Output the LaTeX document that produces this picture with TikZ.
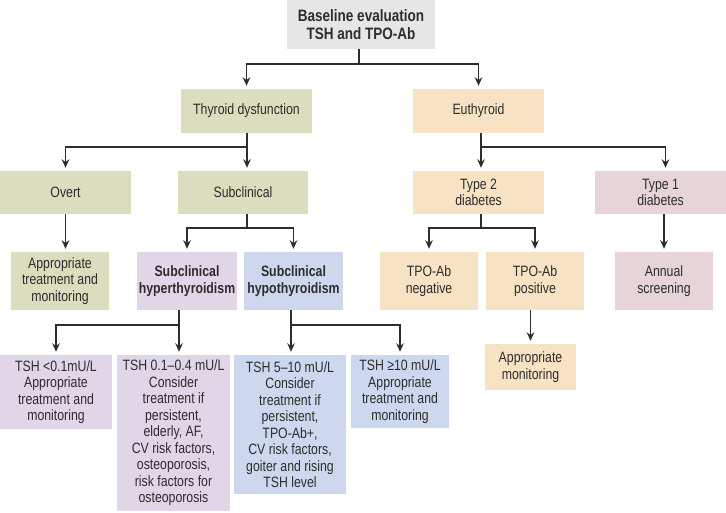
\documentclass[tikz,border=0pt]{standalone}
\usepackage{fontspec}
\setmainfont[FakeStretch=0.82]{Liberation Sans}
\usepackage{tikz}
\usetikzlibrary{arrows.meta}

\definecolor{boxgrey}{RGB}{230,230,230}
\definecolor{boxgreen}{RGB}{219,221,190}
\definecolor{boxpeach}{RGB}{248,226,196}
\definecolor{boxmauve}{RGB}{230,212,216}
\definecolor{boxlilac}{RGB}{225,214,232}
\definecolor{boxblue}{RGB}{205,216,238}
\definecolor{ink}{RGB}{45,45,45}

\begin{document}
\begin{tikzpicture}[x=1pt,y=-1pt]
		\tikzset{box/.style={inner sep=0pt, align=center, text=ink,
				font=\fontsize{15}{16.5}\selectfont}}
		\tikzset{greybox/.style={box, fill=boxgrey}}
		\tikzset{greenbox/.style={box, fill=boxgreen}}
		\tikzset{peachbox/.style={box, fill=boxpeach}}
		\tikzset{mauvebox/.style={box, fill=boxmauve}}
		\tikzset{lilacbox/.style={box, fill=boxlilac}}
		\tikzset{bluebox/.style={box, fill=boxblue}}
		\tikzset{line/.style={draw=ink, line width=1.4pt}}
		\tikzset{arr/.style={line, -{Stealth[length=8.5pt,width=7.5pt]}, shorten >=3pt}}
		\useasboundingbox (0,0) rectangle (726,512);
		%boxes
		\node[greybox, minimum width=148, minimum height=49,
			font=\fontsize{16.5}{18}\selectfont\bfseries] (base) at (361,24.5)
			{Baseline evaluation\\TSH and TPO-Ab};
		\node[greenbox, minimum width=131, minimum height=44] (thy) at (246.5,111) {Thyroid dysfunction};
		\node[peachbox, minimum width=131, minimum height=44] (euth) at (478.5,111) {Euthyroid};
		\node[greenbox, minimum width=131, minimum height=43] (overt) at (65.5,192.5) {Overt};
		\node[greenbox, minimum width=130, minimum height=43] (subcl) at (243,192.5) {Subclinical};
		\node[peachbox, minimum width=131, minimum height=43] (type2) at (478.5,192.5) {Type 2\\diabetes};
		\node[mauvebox, minimum width=131, minimum height=43] (type1) at (660.5,192.5) {Type 1\\diabetes};
		\node[greenbox, minimum width=98, minimum height=58] (aptm) at (60,281) {Appropriate\\treatment and\\monitoring};
		\node[lilacbox, minimum width=100, minimum height=58, font=\fontsize{15}{16.5}\selectfont\bfseries] (hyper) at (187,281) {Subclinical\\hyperthyroidism};
		\node[bluebox, minimum width=99, minimum height=58, font=\fontsize{15}{16.5}\selectfont\bfseries] (hypo) at (293.5,281) {Subclinical\\hypothyroidism};
		\node[peachbox, minimum width=98, minimum height=58] (tponeg) at (429,281) {TPO-Ab\\negative};
		\node[peachbox, minimum width=98, minimum height=58] (tpopos) at (535,281) {TPO-Ab\\positive};
		\node[mauvebox, minimum width=98, minimum height=58] (annual) at (664,281) {Annual\\screening};
		\node[peachbox, minimum width=91, minimum height=46] (apmon) at (530.5,367) {Appropriate\\monitoring};
		\node[lilacbox, minimum width=112, minimum height=74] (tshlow) at (56,392)
			{TSH <0.1mU/L\\Appropriate\\treatment and\\monitoring};
		\node[lilacbox, minimum width=113, minimum height=156] (tshmid) at (173.5,433)
			{TSH 0.1–0.4 mU/L\\Consider\\treatment if\\persistent,\\elderly, AF,\\CV risk factors,\\osteoporosis,\\risk factors for\\osteoporosis};
		\node[bluebox, minimum width=112, minimum height=139] (tshfive) at (290,424.5)
			{TSH 5–10 mU/L\\Consider\\treatment if\\persistent,\\TPO-Ab+,\\CV risk factors,\\goiter and rising\\TSH level};
		\node[bluebox, minimum width=98, minimum height=73] (tshhigh) at (400,391.5)
			{TSH ≥10 mU/L\\Appropriate\\treatment and\\monitoring};
		%forks
		\coordinate (j0) at (359,64);
		\coordinate (j1) at (247,147);
		\coordinate (j2) at (481,147);
		\coordinate (j3) at (247,228);
		\coordinate (j4) at (481,228);
		\coordinate (j5) at (179,325);
		\coordinate (j6) at (291,325);
		%edges
		\draw[line] (base.south -| j0) -- (j0);
		\draw[arr] (j0) -| (thy.north);
		\draw[arr] (j0) -| (euth.north);
		\draw[line] (thy.south -| j1) -- (j1);
		\draw[arr] (j1) -| (overt.north);
		\draw[arr] (j1) -- (j1 |- subcl.north);
		\draw[line] (euth.south -| j2) -- (j2);
		\draw[arr] (j2) -- (j2 |- type2.north);
		\draw[arr] (j2) -| ([xshift=5]type1.north);
		\draw[arr] (overt.south) -- (overt.south |- aptm.north);
		\draw[line] (subcl.south -| j3) -- (j3);
		\draw[arr] (j3) -| (hyper.north);
		\draw[arr] (j3) -| (hypo.north);
		\draw[line] (type2.south -| j4) -- (j4);
		\draw[arr] (j4) -| (tponeg.north);
		\draw[arr] (j4) -| (tpopos.north);
		\draw[arr] (type1.south -| annual) -- (annual);
		\draw[arr] (apmon.north |- tpopos.south) -- (apmon.north);
		\draw[line] (hyper.south -| j5) -- (j5);
		\draw[arr] (j5) -| (tshlow.north);
		\draw[arr] (j5) -- (j5 |- tshmid.north);
		\draw[line] (hypo.south -| j6) -- (j6);
		\draw[arr] (j6) -- (j6 |- tshfive.north);
		\draw[arr] (j6) -| (tshhigh.north);
\end{tikzpicture}
\end{document}
